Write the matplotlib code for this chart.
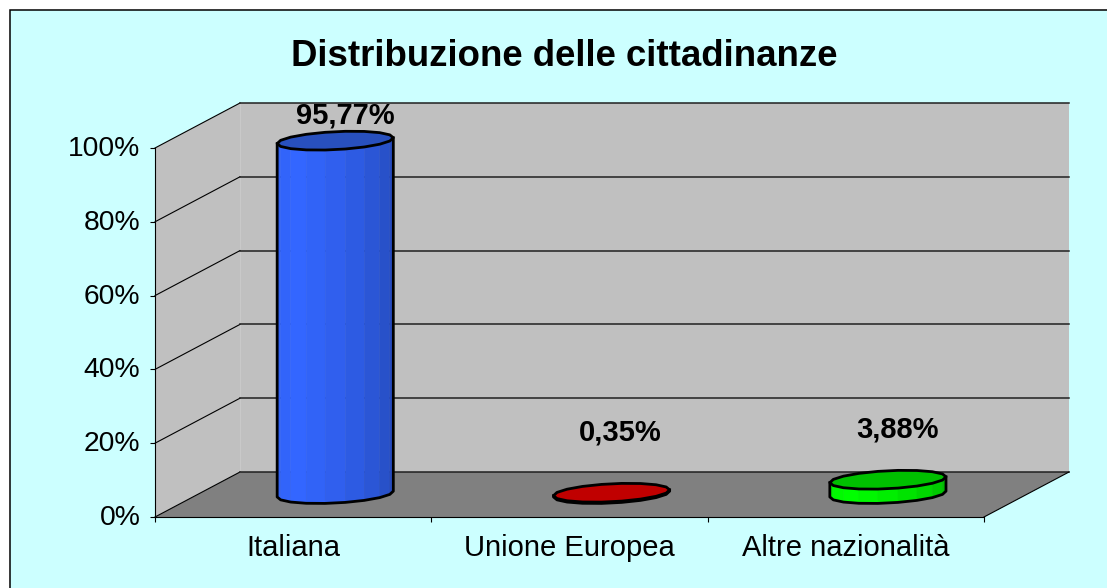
import matplotlib.pyplot as plt
import numpy as np
from matplotlib.patches import Rectangle
from matplotlib.transforms import ScaledTranslation

categories = ["Italiana", "Unione Europea", "Altre nazionalità"]
values = [95.77, 0.35, 3.88]
value_labels = ["95,77%", "0,35%", "3,88%"]
y_ticks = [0, 20, 40, 60, 80, 100]
y_tick_labels = ["0%", "20%", "40%", "60%", "80%", "100%"]
title = "Distribuzione delle cittadinanze"

side_colors = ["#3366FF", "#FF0000", "#00FF00"]
top_colors = ["#2850BE", "#C00000", "#00C000"]
label_offsets = [(9, 25), (7, 60), (8, 50)]  # px, from centre of the top face

W, H = 1107, 588
plt.rcParams['font.family'] = ['Liberation Sans', 'DejaVu Sans']

fig = plt.figure(figsize=(W / 100, H / 100), dpi=100, facecolor='white')
fig.patches.append(Rectangle((10 / W, -0.05), 1.05, 1 - 10 / H + 0.05, transform=fig.transFigure,
                             facecolor='#CCFFFF', edgecolor='black', linewidth=1.1, zorder=-1))

# front plane of the 3d box, in pixels
left, right, top, bottom = 155, 984, 148, 517
ax = fig.add_axes([left / W, 1 - bottom / H, (right - left) / W, (bottom - top) / H])
ax.set_xlim(0, 3)
ax.set_ylim(0, 100)
ax.patch.set_visible(False)

# depth of the box in data units
dx = 85 / (right - left) * 3
dy = 45 / (bottom - top) * 100

ax.fill([0, dx, dx, 0], [0, dy, 100 + dy, 100], color='#C0C0C0', lw=0, zorder=1, clip_on=False)
ax.fill([dx, 3 + dx, 3 + dx, dx], [dy, dy, 100 + dy, 100 + dy], color='#C0C0C0', lw=0, zorder=1, clip_on=False)
ax.fill([0, 3, 3 + dx, dx], [0, 0, dy, dy], color='#808080', lw=0, zorder=1, clip_on=False)
ax.plot([dx, dx], [dy, 100 + dy], color='#CACACA', lw=0.7, zorder=1.5, clip_on=False)

for v in y_ticks:
    ax.plot([0, dx], [v, v + dy], color='black', lw=0.8, zorder=2, clip_on=False)
    ax.plot([dx, 3 + dx], [v + dy, v + dy], color='#202020', lw=1.1, zorder=2, clip_on=False)
ax.plot([3, 3 + dx], [0, dy], color='black', lw=0.8, zorder=2, clip_on=False)


def shade(color, s):
    # lighter near the left third of the column, darker on the right
    c = np.array(plt.matplotlib.colors.to_rgb(color))
    f = np.interp(s, [0, 0.25, 0.55, 1], [0.96, 1.0, 0.92, 0.74])
    return c * f


rx = 0.2  # half width of a column, in categories
rd = 0.21  # depth radius, as a share of the box depth
dc = 0.51  # column centre in the box depth
t0 = np.arctan2(rd * dx, rx)


def ring(c, v, t):
    d = dc + rd * np.sin(t)
    return c + rx * np.cos(t) + (d - 0.015) * dx, v + d * dy


for i, v in enumerate(values):
    c = i + 0.5
    z = 3 + i
    t = np.linspace(t0 + np.pi, t0 + 2 * np.pi, 10)
    xb, yb = ring(c, 0, t)
    xt, yt = ring(c, v, t)
    for k in range(len(t) - 1):
        ax.fill([xb[k], xb[k + 1], xt[k + 1], xt[k]], [yb[k], yb[k + 1], yt[k + 1], yt[k]],
                color=shade(side_colors[i], k / (len(t) - 2)), lw=0.3, zorder=z, clip_on=False)
    ax.plot(np.r_[xt[0], xb, xt[-1]], np.r_[yt[0], yb, yt[-1]], color='black', lw=2, zorder=z + 0.1,
            clip_on=False, solid_joinstyle='round')

    ta = t0 + np.linspace(0, 2 * np.pi, 19)
    xa, ya = ring(c, v, ta)
    ax.fill(xa, ya, facecolor=top_colors[i], edgecolor='black', lw=2, zorder=z + 0.2, clip_on=False,
            joinstyle='round')

    ox, oy = label_offsets[i]
    ax.annotate(value_labels[i], (c + dc * dx, v + dc * dy), xytext=(ox * 0.72, oy * 0.72),
                textcoords='offset points', ha='center', va='center', fontsize=21, fontweight='bold',
                color='black', zorder=10, annotation_clip=False)

ax.spines['top'].set_visible(False)
ax.spines['right'].set_visible(False)
ax.spines['left'].set_linewidth(0.8)
ax.spines['bottom'].set_linewidth(0.8)
ax.spines['left'].set_zorder(2.5)
ax.spines['bottom'].set_zorder(2.5)

ax.set_yticks(y_ticks)
ax.set_yticklabels(y_tick_labels, fontsize=20.3)
ax.tick_params(axis='y', length=3.6, width=0.8, pad=7)
up = ScaledTranslation(0, 2 / 100, fig.dpi_scale_trans)
for lab in ax.get_yticklabels():
    lab.set_transform(lab.get_transform() + up)

ax.set_xticks([0, 1, 2, 3])
ax.set_xticklabels([])
ax.set_xticks([0.5, 1.5, 2.5], minor=True)
ax.set_xticklabels(categories, minor=True, fontsize=21)
ax.tick_params(axis='x', which='major', length=3.6, width=0.8)
ax.tick_params(axis='x', which='minor', length=0, pad=12)

fig.text(564 / W, 1 - 57 / H, title, ha='center', va='center', fontsize=26.4, fontweight='bold', color='black')

plt.savefig('out.png', dpi=100)
